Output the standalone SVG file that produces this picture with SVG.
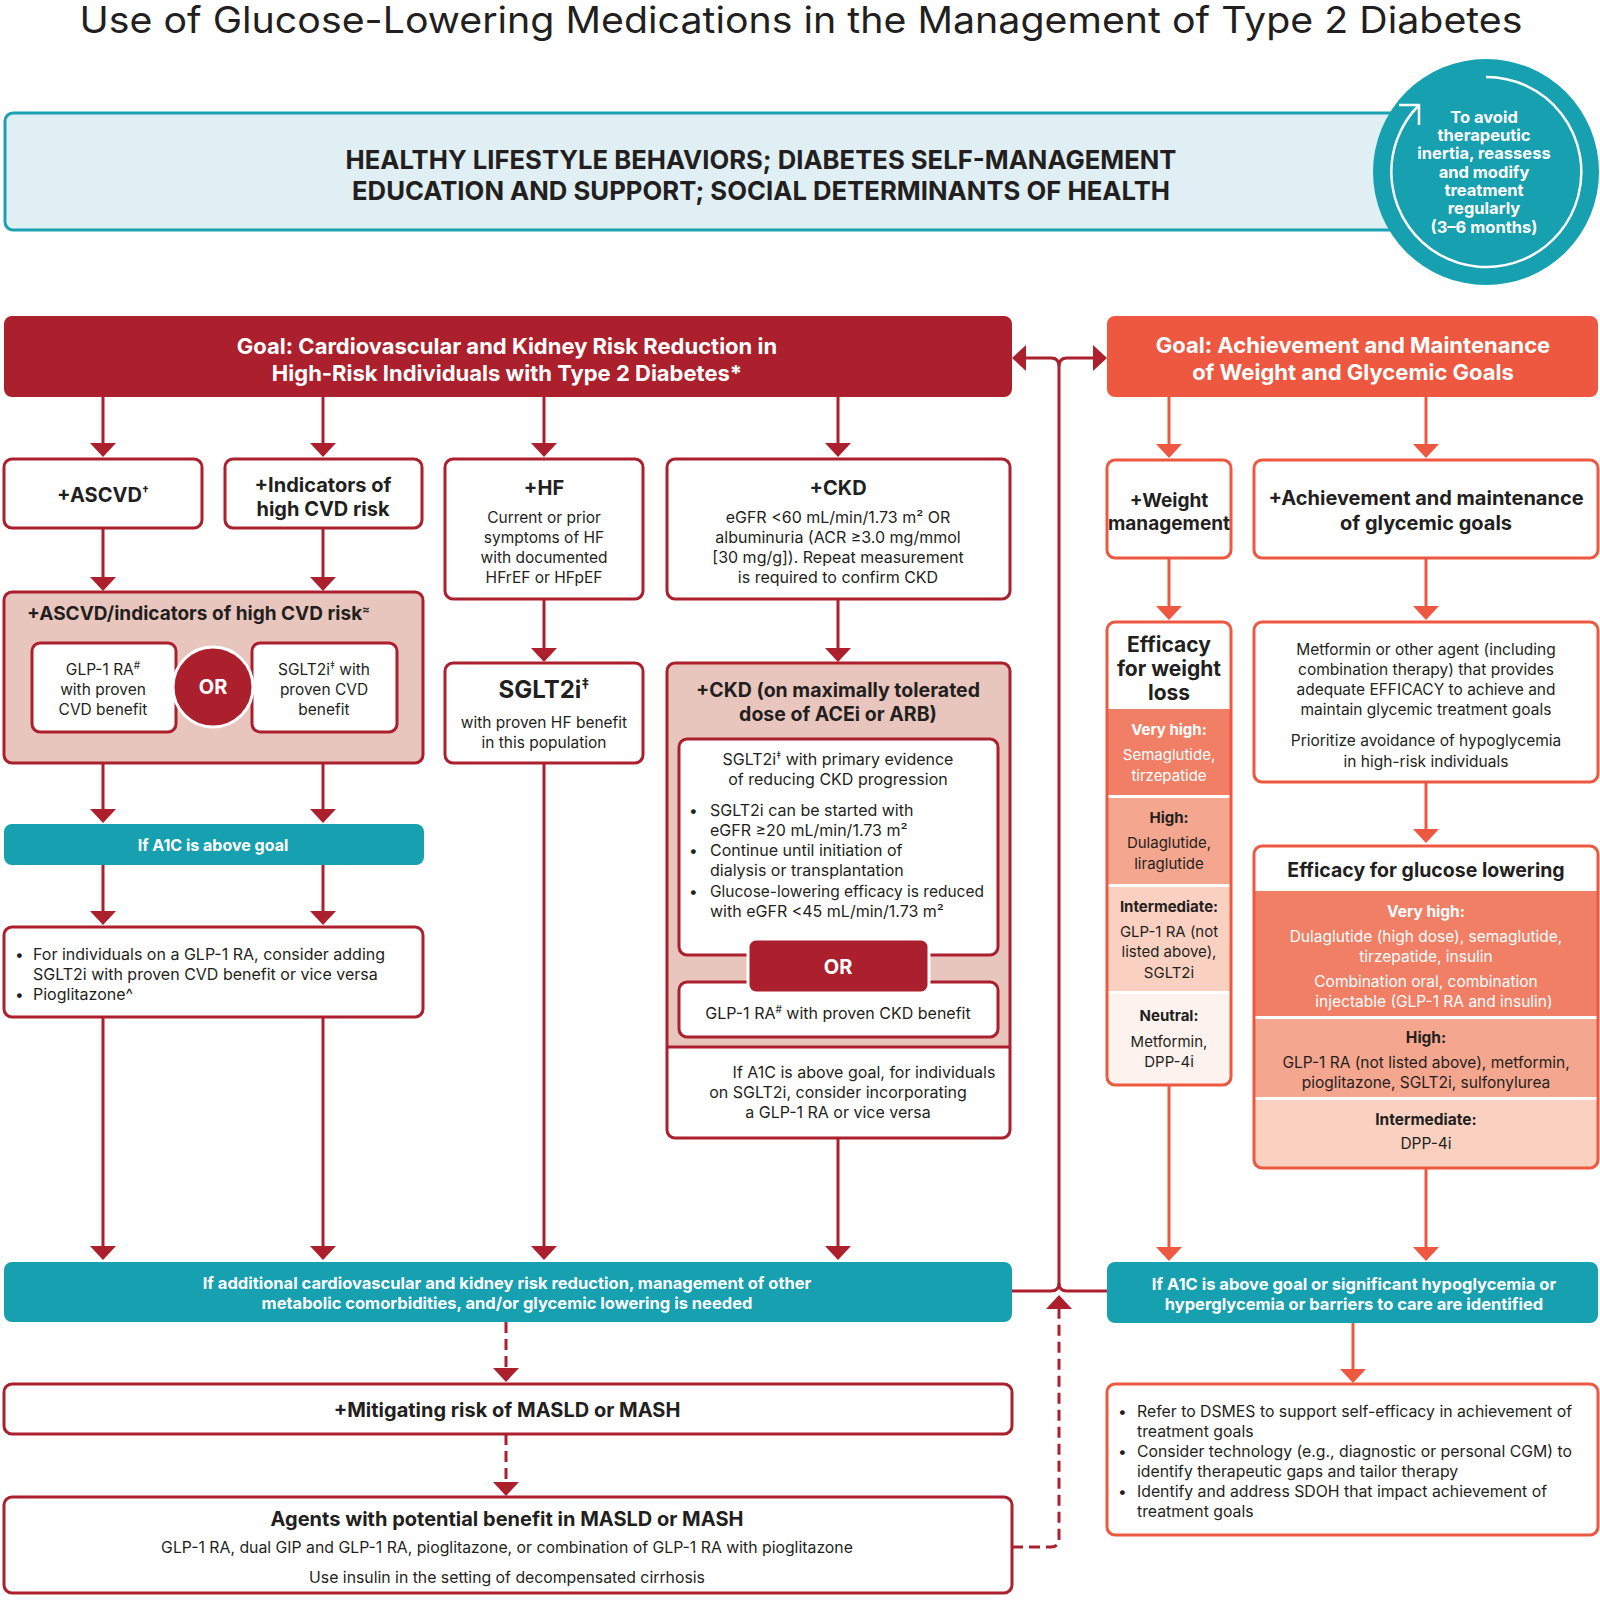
<svg xmlns="http://www.w3.org/2000/svg" width="1600" height="1619" viewBox="0 0 1600 1619">
<style>
text{font-family:Inter,"Liberation Sans",Arial,sans-serif;fill:#231f20;font-size:15.5px}
.c{text-anchor:middle}
.b{font-weight:700}
.w{fill:#fff}
.h20{font-size:20px}
.h21{font-size:21px}
.h22{font-size:22px}
.s15{font-size:15px}
.s16{font-size:16px}
.s165{font-size:16.5px}
.boxR{fill:#fff;stroke:#ac1f2d;stroke-width:3}
.boxC{fill:#fff;stroke:#ee5840;stroke-width:3}
.lR{fill:none;stroke:#ac1f2d;stroke-width:3}
.lC{fill:none;stroke:#ee5840;stroke-width:3}
.dash{stroke-dasharray:11 6}
.teal{fill:#16a0b0}
.pink{fill:#e9c6bd}
.vh{fill:#f07f66}
.hi{fill:#f5a68e}
.im{fill:#fad1c1}
.ne{fill:#fdf2ee}
</style>
<defs>
<marker id="ar" viewBox="0 0 14 26" markerWidth="14" markerHeight="26" refX="8" refY="13" orient="auto-start-reverse" markerUnits="userSpaceOnUse"><path d="M0,0 L14,13 L0,26 Z" fill="#ac1f2d"/></marker>
<marker id="ac" viewBox="0 0 14 26" markerWidth="14" markerHeight="26" refX="8" refY="13" orient="auto-start-reverse" markerUnits="userSpaceOnUse"><path d="M0,0 L14,13 L0,26 Z" fill="#ee5840"/></marker>
<clipPath id="clipCkd"><rect x="667" y="663" width="343" height="475" rx="8"/></clipPath>
<clipPath id="clipWt"><rect x="1107" y="622" width="124" height="463" rx="8"/></clipPath>
<clipPath id="clipGl"><rect x="1254" y="846" width="344" height="322" rx="8"/></clipPath>
</defs>

<text id="title" x="801" y="33" class="c" style="font-size:37px" textLength="1443" lengthAdjust="spacingAndGlyphs">Use of Glucose-Lowering Medications in the Management of Type 2 Diabetes</text>

<g id="lifestyle">
<rect x="5" y="113" width="1420" height="117" rx="8" fill="#e0eff3" stroke="#1ba2b2" stroke-width="3"/>
<text x="761" y="169" class="c b" style="font-size:26px" textLength="831" lengthAdjust="spacingAndGlyphs">HEALTHY LIFESTYLE BEHAVIORS; DIABETES SELF-MANAGEMENT</text>
<text x="761" y="200" class="c b" style="font-size:26px" textLength="818" lengthAdjust="spacingAndGlyphs">EDUCATION AND SUPPORT; SOCIAL DETERMINANTS OF HEALTH</text>
</g>

<g id="reassess">
<circle cx="1486" cy="172" r="113" fill="#16a0b0"/>
<path d="M1486,77 A95,95 0 1 1 1419,105" fill="none" stroke="#fff" stroke-width="2.5"/>
<path d="M1399,105 L1419,105 L1419,125" fill="none" stroke="#fff" stroke-width="2.5"/>
<text x="1484" y="123" class="c b w s165">To avoid</text>
<text x="1484" y="141" class="c b w s165">therapeutic</text>
<text x="1484" y="159" class="c b w s165">inertia, reassess</text>
<text x="1484" y="178" class="c b w s165">and modify</text>
<text x="1484" y="196" class="c b w s165">treatment</text>
<text x="1484" y="214" class="c b w s165">regularly</text>
<text x="1484" y="233" class="c b w s165">(3–6 months)</text>
</g>

<g id="connectors">
<path class="lR" d="M103,397 V451" marker-end="url(#ar)"/>
<path class="lR" d="M323,397 V451" marker-end="url(#ar)"/>
<path class="lR" d="M544,397 V451" marker-end="url(#ar)"/>
<path class="lR" d="M838,397 V451" marker-end="url(#ar)"/>
<path class="lR" d="M103,528 V585" marker-end="url(#ar)"/>
<path class="lR" d="M323,528 V585" marker-end="url(#ar)"/>
<path class="lR" d="M544,599 V656" marker-end="url(#ar)"/>
<path class="lR" d="M838,599 V656" marker-end="url(#ar)"/>
<path class="lR" d="M103,732 V817" marker-end="url(#ar)"/>
<path class="lR" d="M323,732 V817" marker-end="url(#ar)"/>
<path class="lR" d="M103,865 V919" marker-end="url(#ar)"/>
<path class="lR" d="M323,865 V919" marker-end="url(#ar)"/>
<path class="lR" d="M103,1017 V1254" marker-end="url(#ar)"/>
<path class="lR" d="M323,1017 V1254" marker-end="url(#ar)"/>
<path class="lR" d="M544,763 V1254" marker-end="url(#ar)"/>
<path class="lR" d="M838,1138 V1254" marker-end="url(#ar)"/>
<path class="lR dash" d="M506,1322 V1376" marker-end="url(#ar)"/>
<path class="lR dash" d="M506,1434 V1490" marker-end="url(#ar)"/>
<path class="lC" d="M1169,397 V452" marker-end="url(#ac)"/>
<path class="lC" d="M1426,397 V452" marker-end="url(#ac)"/>
<path class="lC" d="M1169,558 V614" marker-end="url(#ac)"/>
<path class="lC" d="M1426,558 V614" marker-end="url(#ac)"/>
<path class="lC" d="M1426,782 V837" marker-end="url(#ac)"/>
<path class="lC" d="M1169,1085 V1255" marker-end="url(#ac)"/>
<path class="lC" d="M1426,1168 V1255" marker-end="url(#ac)"/>
<path class="lC" d="M1353,1323 V1377" marker-end="url(#ac)"/>
<path class="lR" d="M1018,358 H1051 Q1059,358 1059,366 V1283 Q1059,1291 1051,1291 H1012" marker-start="url(#ar)"/>
<path class="lR" d="M1101,358 H1067 Q1059,358 1059,366" marker-start="url(#ar)"/>
<path class="lR" d="M1059,1283 Q1059,1291 1067,1291 H1108"/>
<path class="lR dash" d="M1012,1547 H1051 Q1059,1547 1059,1539 V1301" marker-end="url(#ar)"/>
</g>

<g id="goal-cv">
<rect x="4" y="316" width="1008" height="81" rx="8" fill="#ac1f2d"/>
<text x="507" y="354" class="c b w h22">Goal: Cardiovascular and Kidney Risk Reduction in</text>
<text x="507" y="381" class="c b w h22">High-Risk Individuals with Type 2 Diabetes*</text>
</g>
<g id="goal-weight">
<rect x="1107" y="316" width="491" height="81" rx="8" fill="#ee5840"/>
<text x="1353" y="353" class="c b w h22">Goal: Achievement and Maintenance</text>
<text x="1353" y="380" class="c b w h22">of Weight and Glycemic Goals</text>
</g>

<g id="ascvd">
<rect class="boxR" x="4" y="459" width="198" height="69" rx="8"/>
<text x="103" y="502" class="c b h20">+ASCVD<tspan font-size="12" dy="-7">†</tspan></text>
</g>
<g id="indicators">
<rect class="boxR" x="225" y="459" width="197" height="69" rx="8"/>
<text x="323" y="492" class="c b h20">+Indicators of</text>
<text x="323" y="516" class="c b h20">high CVD risk</text>
</g>
<g id="hf">
<rect class="boxR" x="445" y="459" width="198" height="140" rx="8"/>
<text x="544" y="495" class="c b h20">+HF</text>
<text x="544" y="523" class="c">Current or prior</text>
<text x="544" y="543" class="c">symptoms of HF</text>
<text x="544" y="563" class="c">with documented</text>
<text x="544" y="583" class="c">HFrEF or HFpEF</text>
</g>
<g id="ckd">
<rect class="boxR" x="667" y="459" width="343" height="140" rx="8"/>
<text x="838" y="495" class="c b h20">+CKD</text>
<text x="838" y="523" class="c s16">eGFR &lt;60 mL/min/1.73 m² OR</text>
<text x="838" y="543" class="c s16">albuminuria (ACR ≥3.0 mg/mmol</text>
<text x="838" y="563" class="c s16">[30 mg/g]). Repeat measurement</text>
<text x="838" y="583" class="c s16">is required to confirm CKD</text>
</g>

<g id="ascvd-combined">
<rect x="4" y="592" width="419" height="171" rx="8" fill="#e9c6bd" stroke="#ac1f2d" stroke-width="3"/>
<text x="27" y="620" class="b" style="font-size:19px">+ASCVD/indicators of high CVD risk<tspan font-size="11" dy="-7">≈</tspan></text>
<rect class="boxR" x="32" y="643" width="144" height="89" rx="8"/>
<text x="103" y="675" class="c">GLP-1 RA<tspan font-size="10" dy="-6">#</tspan></text>
<text x="103" y="695" class="c">with proven</text>
<text x="103" y="715" class="c">CVD benefit</text>
<rect class="boxR" x="252" y="643" width="145" height="89" rx="8"/>
<text x="324" y="675" class="c">SGLT2i<tspan font-size="10" dy="-6">‡</tspan><tspan dy="6"> with</tspan></text>
<text x="324" y="695" class="c">proven CVD</text>
<text x="324" y="715" class="c">benefit</text>
<circle cx="213" cy="687" r="40" fill="#ac1f2d" stroke="#fff" stroke-width="3"/>
<text x="213" y="694" class="c b w h20">OR</text>
</g>

<g id="hf-sglt2i">
<rect class="boxR" x="445" y="663" width="198" height="100" rx="8"/>
<text x="544" y="698" class="c b" style="font-size:24px">SGLT2i<tspan font-size="14" dy="-9">‡</tspan></text>
<text x="544" y="728" class="c">with proven HF benefit</text>
<text x="544" y="748" class="c">in this population</text>
</g>

<g id="ckd-acei">
<rect x="667" y="663" width="343" height="475" rx="8" fill="#fff"/>
<rect x="667" y="663" width="343" height="384" fill="#e9c6bd" clip-path="url(#clipCkd)"/>
<path class="lR" d="M667,1047 H1010"/>
<rect x="667" y="663" width="343" height="475" rx="8" fill="none" stroke="#ac1f2d" stroke-width="3"/>
<text x="838" y="697" class="c b" style="font-size:19.5px">+CKD (on maximally tolerated</text>
<text x="838" y="721" class="c b" style="font-size:19.5px">dose of ACEi or ARB)</text>
<rect class="boxR" x="679" y="739" width="319" height="216" rx="8"/>
<text x="838" y="765" class="c s16">SGLT2i<tspan font-size="10" dy="-6">‡</tspan><tspan dy="6"> with primary evidence</tspan></text>
<text x="838" y="785" class="c s16">of reducing CKD progression</text>
<text x="689" y="816">•</text><text x="710" y="816" class="s16">SGLT2i can be started with</text>
<text x="710" y="836" class="s16">eGFR ≥20 mL/min/1.73 m²</text>
<text x="689" y="856">•</text><text x="710" y="856" class="s16">Continue until initiation of</text>
<text x="710" y="876" class="s16">dialysis or transplantation</text>
<text x="689" y="897">•</text><text x="710" y="897">Glucose-lowering efficacy is reduced</text>
<text x="710" y="917" class="s16">with eGFR &lt;45 mL/min/1.73 m²</text>
<rect class="boxR" x="679" y="982" width="319" height="55" rx="8"/>
<text x="838" y="1019" class="c s16">GLP-1 RA<tspan font-size="10" dy="-6">#</tspan><tspan dy="6"> with proven CKD benefit</tspan></text>
<rect x="748" y="939" width="181" height="54" rx="8" fill="#ac1f2d" stroke="#fff" stroke-width="3"/>
<text x="838" y="974" class="c b w h20">OR</text>
<text x="864" y="1078" class="c s16">If A1C is above goal, for individuals</text>
<text x="838" y="1098" class="c s16">on SGLT2i, consider incorporating</text>
<text x="838" y="1118" class="c s16">a GLP-1 RA or vice versa</text>
</g>

<g id="a1c-left">
<rect class="teal" x="4" y="824" width="420" height="41" rx="8"/>
<text x="213" y="851" class="c b w s16">If A1C is above goal</text>
</g>
<g id="glp1-sglt2-add">
<rect class="boxR" x="4" y="927" width="419" height="90" rx="8"/>
<text x="15" y="960">•</text><text x="33" y="960" class="s16">For individuals on a GLP-1 RA, consider adding</text>
<text x="33" y="980" class="s16">SGLT2i with proven CVD benefit or vice versa</text>
<text x="15" y="1000">•</text><text x="33" y="1000" class="s16">Pioglitazone^</text>
</g>

<g id="additional">
<rect class="teal" x="4" y="1262" width="1008" height="60" rx="8"/>
<text x="507" y="1289" class="c b w s165">If additional cardiovascular and kidney risk reduction, management of other</text>
<text x="507" y="1309" class="c b w s165">metabolic comorbidities, and/or glycemic lowering is needed</text>
</g>
<g id="masld">
<rect class="boxR" x="4" y="1384" width="1008" height="50" rx="8"/>
<text x="507" y="1417" class="c b h20">+Mitigating risk of MASLD or MASH</text>
</g>
<g id="agents">
<rect class="boxR" x="4" y="1497" width="1008" height="96" rx="8"/>
<text x="507" y="1526" class="c b h20">Agents with potential benefit in MASLD or MASH</text>
<text x="507" y="1553" class="c" style="font-size:15.8px">GLP-1 RA, dual GIP and GLP-1 RA, pioglitazone, or combination of GLP-1 RA with pioglitazone</text>
<text x="507" y="1583" class="c" style="font-size:15.8px">Use insulin in the setting of decompensated cirrhosis</text>
</g>

<g id="weight">
<rect class="boxC" x="1107" y="460" width="124" height="98" rx="8"/>
<text x="1169" y="507" class="c b" style="font-size:19px">+Weight</text>
<text x="1169" y="530" class="c b" style="font-size:19px">management</text>
</g>
<g id="glycemic">
<rect class="boxC" x="1254" y="460" width="344" height="98" rx="8"/>
<text x="1426" y="505" class="c b h20">+Achievement and maintenance</text>
<text x="1426" y="530" class="c b h20">of glycemic goals</text>
</g>

<g id="weight-efficacy">
<rect x="1107" y="622" width="124" height="463" rx="8" fill="#fff"/>
<g clip-path="url(#clipWt)">
<rect class="vh" x="1107" y="709" width="124" height="86"/>
<rect class="hi" x="1107" y="798" width="124" height="86"/>
<rect class="im" x="1107" y="887" width="124" height="104"/>
<rect class="ne" x="1107" y="994" width="124" height="91"/>
</g>
<rect x="1107" y="622" width="124" height="463" rx="8" fill="none" stroke="#ee5840" stroke-width="3"/>
<text x="1169" y="652" class="c b h21">Efficacy</text>
<text x="1169" y="676" class="c b h21">for weight</text>
<text x="1169" y="700" class="c b h21">loss</text>
<text x="1169" y="735" class="c b w s15">Very high:</text>
<text x="1169" y="760" class="c w s15">Semaglutide,</text>
<text x="1169" y="781" class="c w s15">tirzepatide</text>
<text x="1169" y="823" class="c b s15">High:</text>
<text x="1169" y="848" class="c s15">Dulaglutide,</text>
<text x="1169" y="869" class="c s15">liraglutide</text>
<text x="1169" y="912" class="c b s15">Intermediate:</text>
<text x="1169" y="937" class="c s15">GLP-1 RA (not</text>
<text x="1169" y="957" class="c s15">listed above),</text>
<text x="1169" y="978" class="c s15">SGLT2i</text>
<text x="1169" y="1021" class="c b s15">Neutral:</text>
<text x="1169" y="1047" class="c s15">Metformin,</text>
<text x="1169" y="1067" class="c s15">DPP-4i</text>
</g>

<g id="metformin">
<rect class="boxC" x="1254" y="622" width="344" height="160" rx="8"/>
<text x="1426" y="655" class="c">Metformin or other agent (including</text>
<text x="1426" y="675" class="c">combination therapy) that provides</text>
<text x="1426" y="695" class="c">adequate EFFICACY to achieve and</text>
<text x="1426" y="715" class="c">maintain glycemic treatment goals</text>
<text x="1426" y="746" class="c">Prioritize avoidance of hypoglycemia</text>
<text x="1426" y="767" class="c">in high-risk individuals</text>
</g>

<g id="glucose-efficacy">
<rect x="1254" y="846" width="344" height="322" rx="8" fill="#fff"/>
<g clip-path="url(#clipGl)">
<rect class="vh" x="1254" y="891" width="344" height="125"/>
<rect class="hi" x="1254" y="1019" width="344" height="78"/>
<rect class="im" x="1254" y="1100" width="344" height="68"/>
</g>
<rect x="1254" y="846" width="344" height="322" rx="8" fill="none" stroke="#ee5840" stroke-width="3"/>
<text x="1426" y="877" class="c b" style="font-size:19.5px">Efficacy for glucose lowering</text>
<text x="1426" y="917" class="c b w">Very high:</text>
<text x="1426" y="942" class="c w">Dulaglutide (high dose), semaglutide,</text>
<text x="1426" y="962" class="c w">tirzepatide, insulin</text>
<text x="1426" y="987" class="c w">Combination oral, combination</text>
<text x="1434" y="1007" class="c w">injectable (GLP-1 RA and insulin)</text>
<text x="1426" y="1043" class="c b">High:</text>
<text x="1426" y="1068" class="c">GLP-1 RA (not listed above), metformin,</text>
<text x="1426" y="1088" class="c">pioglitazone, SGLT2i, sulfonylurea</text>
<text x="1426" y="1125" class="c b">Intermediate:</text>
<text x="1426" y="1149" class="c">DPP-4i</text>
</g>

<g id="a1c-right">
<rect class="teal" x="1107" y="1262" width="491" height="61" rx="8"/>
<text x="1354" y="1290" class="c b w s165">If A1C is above goal or significant hypoglycemia or</text>
<text x="1354" y="1310" class="c b w s165">hyperglycemia or barriers to care are identified</text>
</g>
<g id="support">
<rect class="boxC" x="1107" y="1384" width="491" height="151" rx="8"/>
<text x="1118" y="1417">•</text><text x="1137" y="1417" style="font-size:15.8px">Refer to DSMES to support self-efficacy in achievement of</text>
<text x="1137" y="1437" style="font-size:15.8px">treatment goals</text>
<text x="1118" y="1457">•</text><text x="1137" y="1457" style="font-size:15.8px">Consider technology (e.g., diagnostic or personal CGM) to</text>
<text x="1137" y="1477" style="font-size:15.8px">identify therapeutic gaps and tailor therapy</text>
<text x="1118" y="1497">•</text><text x="1137" y="1497" style="font-size:15.8px">Identify and address SDOH that impact achievement of</text>
<text x="1137" y="1517" style="font-size:15.8px">treatment goals</text>
</g>
</svg>
